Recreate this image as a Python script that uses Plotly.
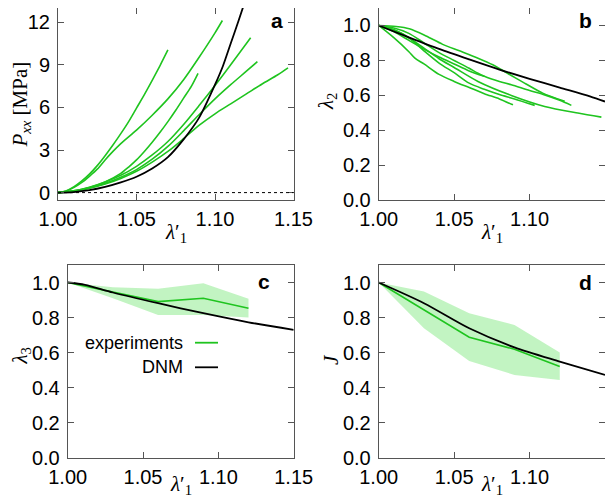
import plotly.graph_objects as go

# ---------------- data ----------------
# Panel a: P_xx [MPa] vs lambda'_1 (six experiments + DNM model)
a_exp_x = [
    [1.000, 1.005, 1.010, 1.015, 1.020, 1.025, 1.030, 1.035, 1.040, 1.045, 1.050, 1.055, 1.060, 1.065, 1.070],
    [1.000, 1.005, 1.010, 1.015, 1.020, 1.025, 1.030, 1.035, 1.040, 1.050, 1.060, 1.070, 1.080, 1.090, 1.100, 1.1047],
    [1.000, 1.010, 1.020, 1.030, 1.040, 1.045, 1.050, 1.055, 1.060, 1.065, 1.070, 1.075, 1.080, 1.085, 1.0892],
    [1.000, 1.010, 1.020, 1.030, 1.040, 1.050, 1.060, 1.070, 1.080, 1.090, 1.100, 1.110, 1.1227],
    [1.000, 1.010, 1.020, 1.030, 1.040, 1.050, 1.060, 1.070, 1.080, 1.090, 1.100, 1.110, 1.120, 1.127],
    [1.000, 1.010, 1.020, 1.030, 1.040, 1.050, 1.060, 1.070, 1.080, 1.090, 1.100, 1.110, 1.120, 1.130, 1.140, 1.1465],
]
a_exp_y = [
    [0, 0.12, 0.40, 0.80, 1.30, 1.90, 2.60, 3.35, 4.15, 5.00, 5.95, 6.90, 7.90, 8.95, 10.05],
    [0, 0.10, 0.35, 0.70, 1.15, 1.65, 2.30, 2.90, 3.45, 4.40, 5.45, 6.60, 7.95, 9.55, 11.25, 12.12],
    [0, 0.12, 0.35, 0.75, 1.35, 1.80, 2.30, 2.90, 3.55, 4.25, 5.00, 5.80, 6.65, 7.50, 8.40],
    [0, 0.12, 0.38, 0.75, 1.22, 1.85, 2.65, 3.60, 4.80, 6.15, 7.55, 9.00, 10.90],
    [0, 0.10, 0.33, 0.65, 1.08, 1.62, 2.35, 3.25, 4.35, 5.50, 6.60, 7.60, 8.55, 9.22],
    [0, 0.10, 0.30, 0.60, 1.00, 1.50, 2.15, 2.90, 3.80, 4.75, 5.55, 6.25, 6.95, 7.65, 8.30, 8.78],
]
a_dnm_x = [1.000, 1.010, 1.020, 1.030, 1.040, 1.050, 1.060, 1.070, 1.080, 1.090, 1.100, 1.105, 1.110, 1.115, 1.118]
a_dnm_y = [0.00, 0.04, 0.17, 0.40, 0.72, 1.12, 1.70, 2.50, 3.75, 5.30, 7.60, 8.90, 10.50, 12.10, 13.10]

# Panel b: lambda_2 vs lambda'_1
b_exp_x = [
    [1.000, 1.010, 1.020, 1.030, 1.040, 1.050, 1.060, 1.070],
    [1.000, 1.010, 1.020, 1.030, 1.040, 1.050, 1.060, 1.070, 1.080, 1.090, 1.1034],
    [1.000, 1.010, 1.020, 1.024, 1.030, 1.040, 1.050, 1.060, 1.070, 1.080, 1.089],
    [1.000, 1.0115, 1.0203, 1.0314, 1.0424, 1.0535, 1.0658, 1.0756, 1.090, 1.0977, 1.1087, 1.1233],
    [1.000, 1.010, 1.020, 1.030, 1.040, 1.050, 1.060, 1.0658, 1.070, 1.080, 1.0879, 1.100, 1.110, 1.120, 1.1277],
    [1.000, 1.010, 1.020, 1.030, 1.040, 1.050, 1.0658, 1.0879, 1.110, 1.132, 1.1476],
]
b_exp_y = [
    [1.000, 0.965, 0.915, 0.865, 0.820, 0.780, 0.740, 0.709],
    [1.000, 0.975, 0.930, 0.855, 0.785, 0.730, 0.670, 0.635, 0.605, 0.580, 0.543],
    [1.000, 0.930, 0.850, 0.813, 0.780, 0.720, 0.680, 0.645, 0.610, 0.580, 0.546],
    [1.000, 0.994, 0.981, 0.940, 0.892, 0.855, 0.813, 0.775, 0.703, 0.665, 0.613, 0.566],
    [1.000, 0.985, 0.955, 0.900, 0.845, 0.800, 0.755, 0.727, 0.710, 0.680, 0.661, 0.628, 0.603, 0.572, 0.543],
    [1.000, 0.975, 0.930, 0.870, 0.810, 0.760, 0.680, 0.600, 0.537, 0.499, 0.476],
]
b_dnm_x = [1.00, 1.02, 1.04, 1.06, 1.08, 1.10, 1.12, 1.14, 1.15]
b_dnm_y = [1.000, 0.932, 0.866, 0.806, 0.748, 0.695, 0.645, 0.595, 0.565]

# Panel c: lambda_3 (mean and spread of experiments) + DNM
c_exp_x = [1.00, 1.03, 1.06, 1.09, 1.12]
c_exp_mean = [1.000, 0.945, 0.891, 0.910, 0.853]
c_exp_hi = [1.000, 0.973, 0.964, 0.996, 0.907]
c_exp_lo = [1.000, 0.910, 0.815, 0.815, 0.800]
c_dnm_x = [1.00, 1.0115, 1.03, 1.06, 1.09, 1.12, 1.15]
c_dnm_y = [1.000, 0.987, 0.943, 0.882, 0.825, 0.773, 0.730]

# Panel d: J (mean and spread of experiments) + DNM
d_exp_x = [1.00, 1.03, 1.06, 1.09, 1.12]
d_exp_mean = [1.000, 0.844, 0.688, 0.619, 0.520]
d_exp_hi = [1.000, 0.949, 0.825, 0.758, 0.600]
d_exp_lo = [1.000, 0.739, 0.552, 0.472, 0.444]
d_dnm_x = [1.00, 1.03, 1.06, 1.09, 1.12, 1.15]
d_dnm_y = [1.000, 0.882, 0.739, 0.630, 0.549, 0.472]

x_ticks = [1.00, 1.05, 1.10, 1.15]
a_y_ticks = [0, 3, 6, 9, 12]
lam_y_ticks = [0.0, 0.2, 0.4, 0.6, 0.8, 1.0]

x_title = "<i>λ</i>′<sub>1</sub>"
y_titles = ["<i>P</i><sub><i>xx</i></sub> [MPa]", "<i>λ</i><sub>2</sub>",
            "<i>λ</i><sub>3</sub>", "<i>J</i>"]
panel_letters = ["a", "b", "c", "d"]
legend_labels = ["experiments", "DNM"]

# ---------------- style ----------------
GREEN = "#1fc41f"
BAND = "rgba(120,230,120,0.45)"
BLACK = "#000000"
W, H = 613, 497
SANS = "Liberation Sans"
SERIF = "Liberation Serif"

fig = go.Figure()

def add_line(x, y, color, width, xa, ya, smooth=True):
    fig.add_trace(go.Scatter(x=x, y=y, mode="lines",
                             line=dict(color=color, width=width,
                                       shape="spline" if smooth else "linear", smoothing=0.8),
                             xaxis=xa, yaxis=ya, hoverinfo="skip", showlegend=False))

# Panel a
for xs, ys in zip(a_exp_x, a_exp_y):
    add_line(xs, ys, GREEN, 1.6, "x", "y")
add_line(a_dnm_x, a_dnm_y, BLACK, 1.8, "x", "y")

# Panel b
for xs, ys in zip(b_exp_x, b_exp_y):
    add_line(xs, ys, GREEN, 1.6, "x2", "y2")
add_line(b_dnm_x, b_dnm_y, BLACK, 1.8, "x2", "y2")

# Panel c
fig.add_trace(go.Scatter(x=c_exp_x + c_exp_x[::-1], y=c_exp_hi + c_exp_lo[::-1], fill="toself",
                         fillcolor=BAND, line=dict(width=0), mode="lines",
                         xaxis="x3", yaxis="y3", hoverinfo="skip", showlegend=False))
add_line(c_exp_x, c_exp_mean, GREEN, 1.6, "x3", "y3", smooth=False)
add_line(c_dnm_x, c_dnm_y, BLACK, 1.8, "x3", "y3")

# Panel d
fig.add_trace(go.Scatter(x=d_exp_x + d_exp_x[::-1], y=d_exp_hi + d_exp_lo[::-1], fill="toself",
                         fillcolor=BAND, line=dict(width=0), mode="lines",
                         xaxis="x4", yaxis="y4", hoverinfo="skip", showlegend=False))
add_line(d_exp_x, d_exp_mean, GREEN, 1.6, "x4", "y4", smooth=False)
add_line(d_dnm_x, d_dnm_y, BLACK, 1.8, "x4", "y4")

def px_dom(a, b):
    return [a / W, b / W]

def py_dom(top, bottom):
    return [1 - bottom / H, 1 - top / H]

common = dict(showline=True, mirror="ticks", linecolor="#555", linewidth=1,
              ticks="inside", ticklen=6, tickcolor="#555", tickwidth=1, automargin=False,
              showgrid=False, zeroline=False, tickfont=dict(family=SANS, size=20, color="black"))

def xax(dom, anchor):
    return dict(common, domain=dom, anchor=anchor, range=[1.0, 1.15], tickvals=x_ticks,
                tickformat=".2f", ticklabelstandoff=1)

def yax(dom, anchor, rng, ticks, fmt):
    return dict(common, domain=dom, anchor=anchor, range=rng, tickvals=ticks, tickformat=fmt,
                ticklabelstandoff=3)

fig.update_layout(
    width=W, height=H, margin=dict(l=0, r=0, t=0, b=0, autoexpand=False),
    plot_bgcolor="white", paper_bgcolor="white", showlegend=False,
    font=dict(family=SANS, size=19, color="black"),
    xaxis=xax(px_dom(50, 285.5), "y"),
    yaxis=yax(py_dom(0, 191.7), "x", [-0.5, 13], a_y_ticks, "d"),
    xaxis2=xax(px_dom(370.7, 597), "y2"),
    yaxis2=yax(py_dom(0, 192.3), "x2", [0, 1.1], lam_y_ticks, ".1f"),
    xaxis3=xax(px_dom(59.7, 285.7), "y3"),
    yaxis3=yax(py_dom(257, 449.7), "x3", [0, 1.1], lam_y_ticks, ".1f"),
    xaxis4=xax(px_dom(370.7, 597), "y4"),
    yaxis4=yax(py_dom(257, 449.7), "x4", [0, 1.1], lam_y_ticks, ".1f"),
)

# axis titles (placed as annotations for exact placement)
x_title_pos = [(167.7, 225), (483.8, 225), (172.7, 477), (483.8, 477)]
for (xc, yc) in x_title_pos:
    fig.add_annotation(text=x_title, xref="paper", yref="paper", x=xc / W, y=1 - yc / H,
                       xanchor="center", yanchor="middle", showarrow=False,
                       font=dict(family=SERIF, size=21, color="black"))
y_title_pos = [(12.5, 97), (319, 94), (12.5, 348), (323, 352)]
for txt, (xc, yc) in zip(y_titles, y_title_pos):
    fig.add_annotation(text=txt, xref="paper", yref="paper", x=xc / W, y=1 - yc / H,
                       xanchor="center", yanchor="middle", showarrow=False, textangle=-90,
                       font=dict(family=SERIF, size=21, color="black"))

# dotted zero line in panel a
fig.add_shape(type="line", xref="x domain", yref="y", x0=0, x1=1, y0=0, y1=0,
              line=dict(color="black", width=1, dash="dot"))

# panel letters
for txt, (xr, yc) in zip(panel_letters, [(277, 13), (586, 13), (263.5, 273), (586, 274)]):
    fig.add_annotation(text=f"<b>{txt}</b>", xref="paper", yref="paper", x=xr / W, y=1 - yc / H,
                       xanchor="right", yanchor="middle", showarrow=False,
                       font=dict(family=SANS, size=21, color="black"))

# legend in panel c (gnuplot style: text then line sample)
for label, color, yc in zip(legend_labels, [GREEN, BLACK], [334.7, 359.3]):
    fig.add_annotation(text=label, xref="paper", yref="paper", x=177 / W, y=1 - yc / H,
                       xanchor="right", yanchor="middle", showarrow=False,
                       font=dict(family=SANS, size=18, color="black"))
    fig.add_shape(type="line", xref="paper", yref="paper", x0=187 / W, x1=210 / W,
                  y0=1 - yc / H, y1=1 - yc / H, line=dict(color=color, width=1.8))

fig.write_html("out.html")
